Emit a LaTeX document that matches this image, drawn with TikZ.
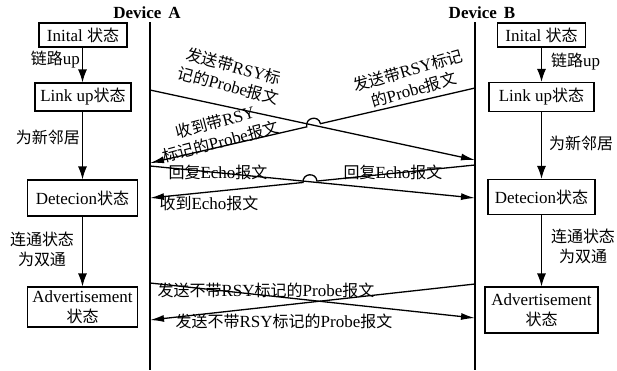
\documentclass[tikz,border=0pt]{standalone}
\usepackage{fontspec}
\setmainfont{Liberation Serif}
\newfontfamily\cjk[Scale=0.94]{Noto Sans CJK SC}
\newcommand\ZH[1]{{\cjk #1}}
\usetikzlibrary{arrows.meta,calc}
\begin{document}
\begin{tikzpicture}[x=1pt,y=-1pt,
  every node/.style={font=\fontsize{17}{20}\selectfont, inner sep=0pt},
  state/.style={draw, line width=1.1pt, align=center, fill=white},
  varrow/.style={line width=1.4pt, -{Latex[length=13pt,width=9pt]}},
  msg/.style={line width=1.3pt, -{Latex[length=14pt,width=7pt]}},
  life/.style={line width=2pt},
  dev/.style={font=\fontsize{17}{20}\selectfont\bfseries}]
\useasboundingbox (0,0) rectangle (617,370);

% lifelines
\node[dev] (devA) at (147,13) {Device\, A};
\node[dev] (devB) at (482,13) {Device\, B};
\coordinate (Atop) at (150,22);
\coordinate (Aend) at (150,370);
\coordinate (Btop) at (475,22);
\coordinate (Bend) at (475,370);
\draw[life] (Atop) -- (Aend);
\draw[life] (Btop) -- (Bend);

% left states
\node[state, minimum width=88pt, minimum height=24pt] (L1) at (83,35) {Inital \ZH{状态}};
\node[state, minimum width=96pt, minimum height=28pt] (L2) at (83,97) {Link up\ZH{状态}};
\node[state, minimum width=110pt, minimum height=36pt] (L3) at (82.5,198) {Detecion\ZH{状态}};
\node[state, minimum width=110pt, minimum height=40pt] (L4) at (82.5,307) {Advertisement\\\ZH{状态}};
\draw[varrow] (L1.south -| L3) -- (L2.north -| L3);
\draw[varrow] (L2.south -| L3) -- (L3);
\draw[varrow] (L3) -- (L4);
\node[anchor=east] (l12) at (80,60) {\ZH{链路}up};
\node[anchor=east] (l23) at (80,137) {\ZH{为新邻居}};
\node[align=center] (l34) at (42,249) {\ZH{连通状态}\\\ZH{为双通}};

% right states
\node[state, minimum width=88pt, minimum height=24pt] (R1) at (541.5,35) {Inital \ZH{状态}};
\node[state, minimum width=105pt, minimum height=29pt] (R2) at (541.5,97) {Link up\ZH{状态}};
\node[state, minimum width=107pt, minimum height=35pt] (R3) at (541.5,197) {Detecion\ZH{状态}};
\node[state, minimum width=113pt, minimum height=46pt] (R4) at (541.5,310) {Advertisement\\\ZH{状态}};
\draw[varrow] (R1) -- (R2);
\draw[varrow] (R2) -- (R3);
\draw[varrow] (R3) -- (R4);
\node[anchor=west] (r12) at (551,62) {\ZH{链路}up};
\node[anchor=west] (r23) at (549,143) {\ZH{为新邻居}};
\node[align=center] (r34) at (583,246) {\ZH{连通状态}\\\ZH{为双通}};

% message end points
\coordinate (a1) at (150,90);  \coordinate (b1) at (475,160);
\coordinate (b2) at (475,88);  \coordinate (a2) at (150,163);
\coordinate (a3) at (150,166); \coordinate (b3) at (475,198);
\coordinate (b4) at (475,165); \coordinate (a4) at (150,198);
\coordinate (a5) at (150,283); \coordinate (b5) at (475,318);
\coordinate (b6) at (475,284); \coordinate (a6) at (150,320);

% crossing 1 with jump
\coordinate (c1) at (intersection of a1--b1 and b2--a2);
\coordinate (p1) at ($(c1)!7pt!(b2)$);
\coordinate (q1) at ($(c1)!7pt!(a2)$);
\coordinate (p1c) at ($(p1)!9.33pt!90:(b2)$);
\coordinate (q1c) at ($(q1)!9.33pt!-90:(a2)$);
\draw[msg] (a1) -- (b1);
\draw[msg] (b2) -- (p1) .. controls (p1c) and (q1c) .. (q1) -- (a2);

% crossing 2 with jump
\coordinate (c2) at (intersection of a3--b3 and b4--a4);
\coordinate (p2) at ($(c2)!7pt!(b4)$);
\coordinate (q2) at ($(c2)!7pt!(a4)$);
\coordinate (p2c) at ($(p2)!9.33pt!90:(b4)$);
\coordinate (q2c) at ($(q2)!9.33pt!-90:(a4)$);
\draw[msg] (a3) -- (b3);
\draw[msg] (b4) -- (p2) .. controls (p2c) and (q2c) .. (q2) -- (a4);

% bottom crossing
\draw[msg] (a5) -- (b5);
\draw[msg] (b6) -- (a6);

% message labels
\node[rotate=-15, align=center] (m1) at (231,76) {\ZH{发送带}RSY\ZH{标}\\\ZH{记的}Probe\ZH{报文}};
\node[rotate=15, align=center] (m2) at (218,132) {\ZH{收到带}RSY\\\ZH{标记的}Probe\ZH{报文}};
\node[rotate=16, align=center] (m3) at (411,80) {\ZH{发送带}RSY\ZH{标记}\\\ZH{的}Probe\ZH{报文}};
\node (m4) at (218,172) {\ZH{回复}Echo\ZH{报文}};
\node (m5) at (393,172) {\ZH{回复}Echo\ZH{报文}};
\node (m6) at (209,203) {\ZH{收到}Echo\ZH{报文}};
\node (m7) at (266,290) {\ZH{发送不带}RSY\ZH{标记的}Probe\ZH{报文}};
\node (m8) at (284,321) {\ZH{发送不带}RSY\ZH{标记的}Probe\ZH{报文}};
\end{tikzpicture}
\end{document}
